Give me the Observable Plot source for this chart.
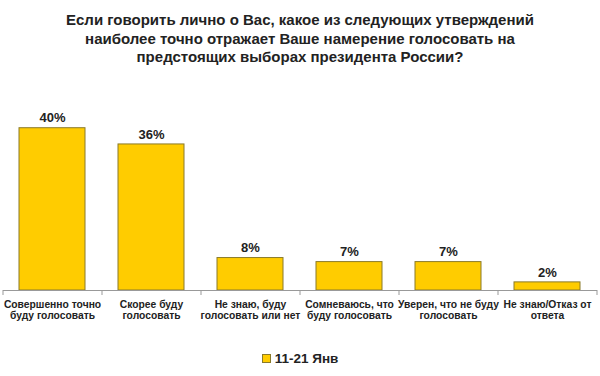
<!DOCTYPE html>
<html>
<head>
<meta charset="utf-8">
<script src="https://cdn.jsdelivr.net/npm/d3@7"></script>
<script src="https://cdn.jsdelivr.net/npm/@observablehq/plot@0.6"></script>
<style>
  html, body { margin: 0; padding: 0; background: #fff; }
  body { width: 600px; height: 376px; overflow: hidden; font-family: "Liberation Sans", Arial, sans-serif; }
  #title { text-align: center; font-weight: bold; font-size: 15px; line-height: 18.5px; color: #222; padding-top: 11px; height: 66px; box-sizing: content-box; }
  #legend { text-align: center; font-weight: bold; font-size: 13.5px; color: #222; margin-top: 12px; }
  #legend .sw { display: inline-block; width: 7px; height: 7px; background: #FFCC00; border: 1px solid #8a7a2a; margin-right: 4px; vertical-align: 0px; }
</style>
</head>
<body>
<div id="title">Если говорить лично о Вас, какое из следующих утверждений<br>наиболее точно отражает Ваше намерение голосовать на<br>предстоящих выборах президента России?</div>
<div id="chart"></div>
<div id="legend"><span class="sw"></span>11-21 Янв</div>
<script>
const categories = [
  "Совершенно точно\nбуду голосовать",
  "Скорее буду\nголосовать",
  "Не знаю, буду\nголосовать или нет",
  "Сомневаюсь, что\nбуду голосовать",
  "Уверен, что не буду\nголосовать",
  "Не знаю/Отказ от\nответа"
];
const values = [40, 36, 8, 7, 7, 2];
const seriesName = "11-21 Янв";

const data = categories.map((c, i) => ({category: c, value: values[i]}));

const width = 600;
const marginLeft = 3, marginRight = 3;
const step = (width - marginLeft - marginRight) / categories.length;

const chart = Plot.plot({
  width,
  height: 262,
  marginTop: 0,
  marginLeft,
  marginRight,
  marginBottom: 49,
  style: {fontFamily: "'Liberation Sans', Arial, sans-serif", background: "#fff"},
  x: {domain: categories, paddingInner: 0.33, paddingOuter: 0.165, axis: null, label: null},
  y: {domain: [0, 52.5], axis: null, label: null},
  marks: [
    Plot.barY(data, {x: "category", y: "value", fill: "#FFCC00", stroke: "#8a7a2a", strokeWidth: 1}),
    Plot.text(data, {x: "category", y: "value", text: d => d.value + "%", dy: -10, fontSize: 13, fontWeight: "bold", fill: "#222"}),
    Plot.ruleY([0], {stroke: "#999", strokeWidth: 1}),
    Plot.axisX({text: null, label: null, tickSize: 5, dx: -step / 2, stroke: "#999"}),
    Plot.axisX({ticks: [categories[categories.length - 1]], text: null, label: null, tickSize: 5, dx: step / 2, stroke: "#999"}),
    Plot.axisX({label: null, tickSize: 0, tickPadding: 9, fontSize: 10.3, fontWeight: "bold", fill: "#222", lineAnchor: "top", lineHeight: 1.12, tickFormat: d => d})
  ]
});
document.getElementById("chart").appendChild(chart);
</script>
</body>
</html>
